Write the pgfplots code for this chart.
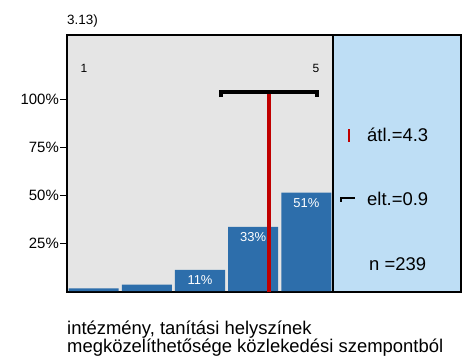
\documentclass[border=0pt]{standalone}
\usepackage{pgfplots}
\pgfplotsset{compat=1.18}
\usepackage{fontspec}
\setmainfont{Liberation Sans}
\definecolor{bggray}{RGB}{229,229,229}
\definecolor{panelblue}{RGB}{190,222,245}
\definecolor{barblue}{RGB}{45,110,171}
\definecolor{meanred}{RGB}{192,0,0}
\begin{document}
\begin{tikzpicture}[x=1bp,y=1bp]
\useasboundingbox (0,0) rectangle (467,358);
\begin{axis}[
  at={(67bp,66bp)}, anchor=south west,
  width=266bp, height=257bp, scale only axis,
  xmin=0.5, xmax=5.5, ymin=-0.4, ymax=133.7,
  axis background/.style={fill=bggray},
  axis line style={black, line width=1.5bp},
  xtick=\empty,
  ytick={25,50,75,100},
  yticklabels={25\%,50\%,75\%,100\%},
  tick align=outside,
  major tick length=7bp,
  ytick style={black, line width=1.5bp},
  yticklabel style={font=\fontsize{15}{15}\selectfont, inner xsep=1bp},
  /pgf/number format/assume math mode=true,
  clip=false,
]
\addplot[ybar, bar width=0.94, fill=barblue, draw=none] coordinates {(1,1.5) (2,3.5) (3,11.2) (4,33.6) (5,51.4)};
\node[white, font=\fontsize{13}{13}\selectfont, yshift=-10.5bp] at (axis cs:3,11.2) {11\%};
\node[white, font=\fontsize{13}{13}\selectfont, yshift=-10.5bp] at (axis cs:4,33.6) {33\%};
\node[white, font=\fontsize{13}{13}\selectfont, yshift=-10.5bp] at (axis cs:5,51.4) {51\%};
\addplot[meanred, line width=4.5bp] coordinates {(4.3,-0.6) (4.3,103.8)};
\addplot[black, line width=4bp] coordinates {(3.4,101.3) (3.4,103.8) (5.2,103.8) (5.2,101.3)};
\node[font=\fontsize{12}{12}\selectfont] at (axis cs:0.82,116.3) {1};
\node[font=\fontsize{12}{12}\selectfont] at (axis cs:5.18,116.3) {5};
\end{axis}
\fill[panelblue] (333,66) rectangle (461,323);
\draw[black, line width=1.5bp] (333,66) rectangle (461,323);
\draw[meanred, line width=2bp] (349,216.5) -- (349,229);
\draw[black, line width=2bp] (341,156.5) -- (341,160) -- (355,160);
\node[anchor=base west, inner sep=0pt, font=\fontsize{18.5}{18.5}\selectfont] at (367,217) {átl.=4.3};
\node[anchor=base west, inner sep=0pt, font=\fontsize{18.5}{18.5}\selectfont] at (367,153) {elt.=0.9};
\node[anchor=base west, inner sep=0pt, font=\fontsize{18.5}{18.5}\selectfont] at (369,88) {n =239};
\node[anchor=base west, inner sep=0pt, font=\fontsize{13.5}{13.5}\selectfont] at (67,334) {3.13)};
\node[anchor=base west, inner sep=0pt, font=\fontsize{18.5}{15}\selectfont] at (67,23.5) {intézmény, tanítási helyszínek};
\node[anchor=base west, inner sep=0pt, font=\fontsize{18.5}{15}\selectfont] at (67,5.3) {megközelíthetősége közlekedési szempontból};
\end{tikzpicture}
\end{document}
